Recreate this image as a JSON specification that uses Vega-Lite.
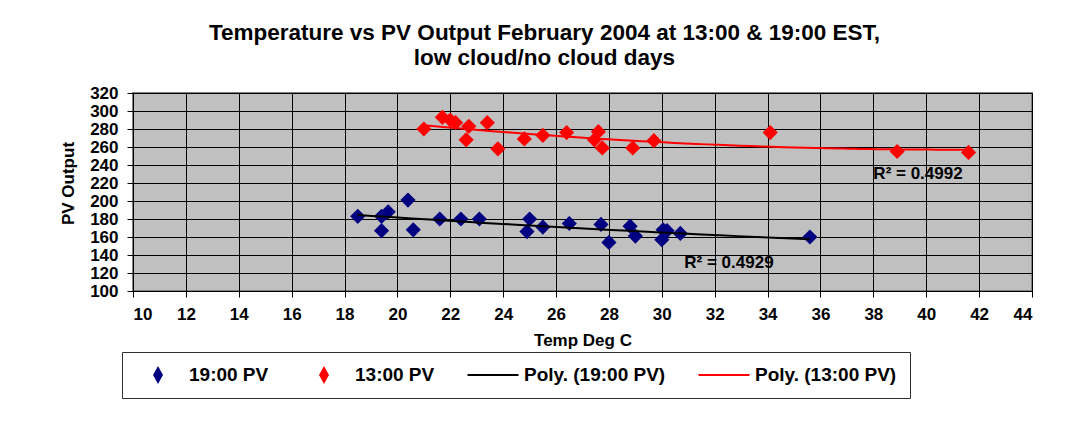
{
  "$schema": "https://vega.github.io/schema/vega-lite/v6.json",
  "autosize": {"type": "none"},
  "width": 899,
  "height": 198,
  "padding": {"left": 133, "top": 93, "right": 34, "bottom": 136},
  "background": "#FFFFFF",
  "config": {
    "font": "Liberation Sans",
    "view": {"fill": "#C0C0C0", "stroke": "#808080", "strokeWidth": 2},
    "axis": {
      "labelFont": "Liberation Sans", "labelFontWeight": "bold", "labelFontSize": 17, "labelColor": "#000000",
      "titleFont": "Liberation Sans", "titleFontWeight": "bold", "titleFontSize": 17, "titleColor": "#000000",
      "gridColor": "#000000", "gridOpacity": 1, "gridWidth": 1,
      "tickColor": "#000000", "tickSize": 6, "labelPadding": 9
    }
  },
  "title": {
    "text": ["Temperature vs PV Output February 2004 at 13:00 & 19:00 EST,", "low cloud/no cloud days"],
    "font": "Liberation Sans", "fontSize": 22.5, "fontWeight": "bold", "color": "#000000",
    "anchor": "middle", "dx": -38, "lineHeight": 25, "offset": 15
  },
  "datasets": {
    "pv19": [
      {"temp": 18.5, "pv": 183}, {"temp": 19.4, "pv": 183}, {"temp": 19.65, "pv": 188}, {"temp": 19.4, "pv": 167},
      {"temp": 20.4, "pv": 201}, {"temp": 20.6, "pv": 168}, {"temp": 21.6, "pv": 180}, {"temp": 22.4, "pv": 180},
      {"temp": 23.1, "pv": 180}, {"temp": 25.0, "pv": 180}, {"temp": 24.9, "pv": 166}, {"temp": 25.5, "pv": 171},
      {"temp": 26.5, "pv": 175}, {"temp": 27.7, "pv": 174}, {"temp": 28.0, "pv": 154}, {"temp": 28.8, "pv": 172},
      {"temp": 29.0, "pv": 161}, {"temp": 30.05, "pv": 168}, {"temp": 30.2, "pv": 167}, {"temp": 30.0, "pv": 157},
      {"temp": 30.7, "pv": 164}, {"temp": 35.6, "pv": 160}
    ],
    "pv13": [
      {"temp": 21.0, "pv": 280}, {"temp": 21.7, "pv": 293}, {"temp": 22.0, "pv": 290}, {"temp": 22.2, "pv": 287},
      {"temp": 22.7, "pv": 283}, {"temp": 22.6, "pv": 268}, {"temp": 23.4, "pv": 287}, {"temp": 23.8, "pv": 258},
      {"temp": 24.8, "pv": 269}, {"temp": 25.5, "pv": 273}, {"temp": 26.4, "pv": 276}, {"temp": 27.6, "pv": 277},
      {"temp": 27.45, "pv": 268}, {"temp": 27.75, "pv": 259}, {"temp": 28.9, "pv": 259}, {"temp": 29.7, "pv": 267},
      {"temp": 34.1, "pv": 276}, {"temp": 38.9, "pv": 255}, {"temp": 41.6, "pv": 254}
    ],
    "notes": [
      {"temp": 38.0, "pv": 230, "label": "R² = 0.4992"},
      {"temp": 30.85, "pv": 131, "label": "R² = 0.4929"}
    ],
    "legend": [
      {"key": "19:00 PV"}, {"key": "13:00 PV"}, {"key": "Poly. (19:00 PV)"}, {"key": "Poly. (13:00 PV)"}
    ]
  },
  "encoding": {
    "x": {"field": "temp", "type": "quantitative",
      "scale": {"domain": [10, 44], "nice": false, "zero": false},
      "axis": {"title": "Temp Deg C", "values": [10,12,14,16,18,20,22,24,26,28,30,32,34,36,38,40,42,44], "domainColor": "#000000", "titlePadding": 10}},
    "y": {"field": "pv", "type": "quantitative",
      "scale": {"domain": [100, 320], "nice": false, "zero": false},
      "axis": {"title": "PV Output", "values": [100,120,140,160,180,200,220,240,260,280,300,320], "domain": false, "titlePadding": 12, "titleY": 90}}
  },
  "layer": [
    {
      "data": {"name": "legend"},
      "transform": [{"filter": {"field": "key", "equal": "none"}}],
      "mark": {"type": "point", "filled": true},
      "encoding": {
        "x": null, "y": null,
        "color": {"field": "key", "type": "nominal",
          "scale": {"domain": ["19:00 PV", "13:00 PV", "Poly. (19:00 PV)", "Poly. (13:00 PV)"], "range": ["#000080", "#FF0000", "#000000", "#FF0000"]},
          "legend": {
            "title": null, "orient": "none", "legendX": -11, "legendY": 259, "direction": "horizontal", "columns": 4,
            "columnPadding": 32, "padding": 13, "strokeColor": "#303030", "fillColor": "#FFFFFF",
            "labelFont": "Liberation Sans", "labelFontWeight": "bold", "labelFontSize": 19, "labelColor": "#000000",
            "labelOffset": 34, "symbolSize": 400, "symbolStrokeWidth": 0, "symbolOpacity": 1
          }},
        "shape": {"field": "key", "type": "nominal",
          "scale": {"domain": ["19:00 PV", "13:00 PV", "Poly. (19:00 PV)", "Poly. (13:00 PV)"],
            "range": ["M1.3,-0.9L1.8,0L1.3,0.9L0.8,0Z", "M1.3,-0.9L1.8,0L1.3,0.9L0.8,0Z", "M-1.25,-0.11L3.85,-0.11L3.85,0.11L-1.25,0.11Z", "M-1.25,-0.11L3.85,-0.11L3.85,0.11L-1.25,0.11Z"]},
          "legend": null}
      }
    },
    {
      "data": {"name": "pv19"},
      "mark": {"type": "point", "shape": "diamond", "filled": true, "size": 230, "color": "#000080", "opacity": 1}
    },
    {
      "data": {"name": "pv13"},
      "mark": {"type": "point", "shape": "diamond", "filled": true, "size": 230, "color": "#FF0000", "opacity": 1}
    },
    {
      "data": {"name": "pv19"},
      "transform": [{"regression": "pv", "on": "temp", "method": "poly", "order": 2}],
      "mark": {"type": "line", "color": "#000000", "strokeWidth": 2}
    },
    {
      "data": {"name": "pv13"},
      "transform": [{"regression": "pv", "on": "temp", "method": "poly", "order": 2}],
      "mark": {"type": "line", "color": "#FF0000", "strokeWidth": 2}
    },
    {
      "data": {"name": "notes"},
      "mark": {"type": "text", "align": "left", "baseline": "middle", "font": "Liberation Sans", "fontWeight": "bold", "fontSize": 17, "color": "#000000"},
      "encoding": {"text": {"field": "label"}}
    }
  ]
}
